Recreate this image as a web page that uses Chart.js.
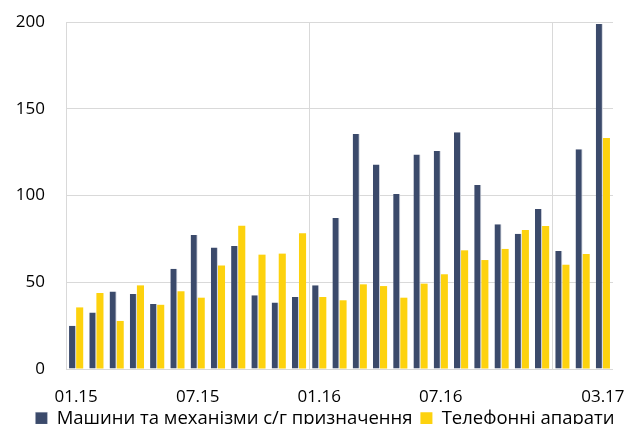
<!DOCTYPE html>
<html>
<head>
<meta charset="utf-8">
<script src="https://cdn.jsdelivr.net/npm/chart.js@4/dist/chart.umd.min.js"></script>
<style>
html,body{margin:0;padding:0;background:#fff;overflow:hidden;}
#wrap{width:628px;height:424px;position:relative;}
</style>
</head>
<body>
<div id="wrap"><canvas id="c"></canvas></div>
<script>
const categories = ["01.15","02.15","03.15","04.15","05.15","06.15","07.15","08.15","09.15","10.15","11.15","12.15",
  "01.16","02.16","03.16","04.16","05.16","06.16","07.16","08.16","09.16","10.16","11.16","12.16",
  "01.17","02.17","03.17"];
const shownLabels = ["01.15","07.15","01.16","07.16","03.17"];
const machinery = [25,32.5,44.6,43.2,37.5,57.8,77.2,70.1,70.9,42.5,38.4,41.5,
  48.2,87,135.4,117.8,100.9,123.7,125.6,136.4,106,83.4,78,92.2,
  68,126.6,198.8];
const phones = [35.5,43.8,27.7,48.2,37,44.8,41.1,59.6,82.6,65.9,66.5,78.2,
  41.5,39.6,48.8,47.8,41.1,49.2,54.6,68.4,62.8,69.2,80.1,82.4,
  60.1,66.3,133.1];
const seriesNames = ["Машини та механізми с/г призначення","Телефонні апарати"];
const yTicks = [0,50,100,150,200];

const FONT = "'Open Sans', sans-serif";
const GRID = '#d9d9d9';

const legendTweak = {
  id: 'legendTweak',
  afterInit(chart) {
    const lg = chart.legend;
    if (!lg) return;
    const origFit = lg.fit;
    lg.fit = function() { origFit.call(this); this.height = 16; };
    const origDraw = lg.draw;
    lg.draw = function(area) {
      const saved = {top: this.top, left: this.left, right: this.right};
      this.top -= 7; this.left += 11; this.right += 11;
      origDraw.call(this, area);
      this.top = saved.top; this.left = saved.left; this.right = saved.right;
    };
  }
};

new Chart(document.getElementById('c'), {
  type: 'bar',
  data: {
    labels: categories,
    datasets: [
      {label: seriesNames[0], data: machinery, backgroundColor: '#3b4a6b', borderColor: '#cfd3dd', borderWidth: {left:0,right:1,top:0,bottom:0}, categoryPercentage: 0.7, barPercentage: 1.0},
      {label: seriesNames[1], data: phones, backgroundColor: '#fdd20e', borderColor: '#fdd20e', borderWidth: 0, categoryPercentage: 0.7, barPercentage: 1.0}
    ]
  },
  plugins: [legendTweak],
  options: {
    responsive: true,
    maintainAspectRatio: false,
    animation: false,
    layout: {padding: {left: 15, right: 15, top: 22, bottom: 0}},
    plugins: {
      legend: {
        position: 'bottom',
        labels: {
          color: '#000',
          font: {family: FONT, size: 18.5},
          boxWidth: 12, boxHeight: 12,
          padding: 8
        }
      },
      tooltip: {enabled: false}
    },
    scales: {
      x: {
        afterFit: axis => { axis.height = 39; axis.paddingLeft = 0; axis.paddingRight = 0; },
        grid: {
          offset: true,
          drawTicks: false,
          color: ctx => (ctx.index === 12 || ctx.index === 24) ? GRID : 'rgba(0,0,0,0)',
          lineWidth: 1
        },
        border: {display: false},
        ticks: {
          autoSkip: false,
          maxRotation: 0,
          color: '#000',
          font: {family: FONT, size: 17},
          padding: 18,
          callback: function(v, i) { const l = categories[i]; return shownLabels.includes(l) ? l : ''; }
        }
      },
      y: {
        min: 0, max: 200,
        afterBuildTicks: axis => { axis.ticks = yTicks.map(v => ({value: v})); },
        afterFit: axis => { axis.width = 51; axis.paddingTop = 0; axis.paddingBottom = 0; },
        grid: {color: GRID, drawTicks: false, lineWidth: 1},
        border: {display: true, color: GRID},
        ticks: {color: '#000', font: {family: FONT, size: 17}, padding: 21}
      }
    }
  }
});
</script>
</body>
</html>
